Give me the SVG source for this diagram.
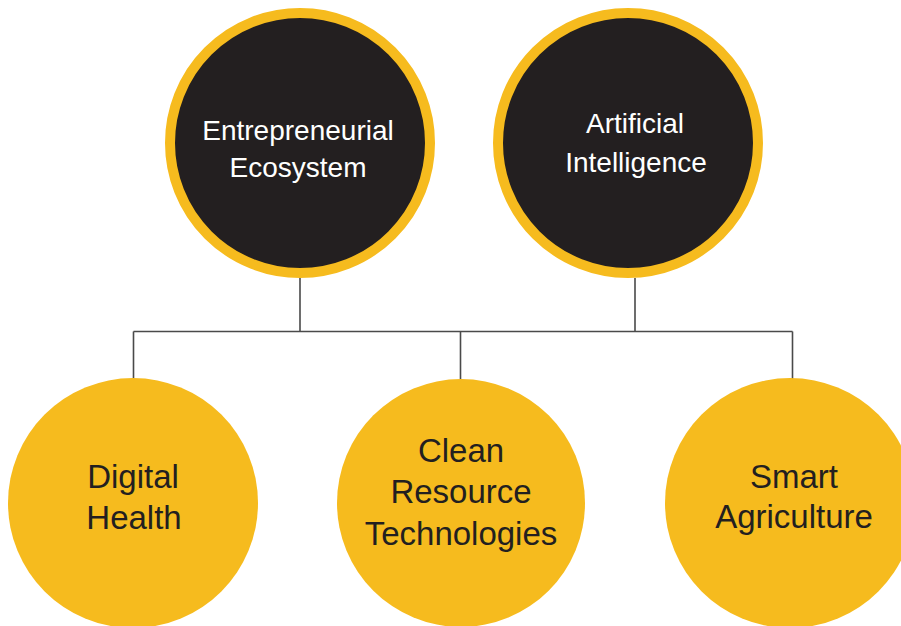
<svg xmlns="http://www.w3.org/2000/svg" width="901" height="626" viewBox="0 0 901 626">
<style>
.top{fill:#231f20;stroke:#f6bb1e;stroke-width:10}
.bot{fill:#f6bb1e}
.lt{fill:#ffffff;font-family:"Liberation Sans",Arial,sans-serif;font-size:28px;text-anchor:middle}
.dt{fill:#231f20;font-family:"Liberation Sans",Arial,sans-serif;font-size:33px;text-anchor:middle}
.conn{stroke:#4a4a4a;stroke-width:1.6;fill:none}
</style>
<rect width="901" height="626" fill="#ffffff"/>
<g id="connectors">
<path class="conn" d="M300 278V331.5M635 278V331.5M133.5 331.5H792.5M133.5 331.5V379M460.5 331.5V379M792.5 331.5V379"/>
</g>
<g id="node-entrepreneurial">
<circle class="top" cx="300" cy="143" r="130"/>
<text class="lt" x="298" y="140">Entrepreneurial</text>
<text class="lt" x="298" y="177">Ecosystem</text>
</g>
<g id="node-ai">
<circle class="top" cx="628" cy="143" r="130"/>
<text class="lt" x="635" y="133">Artificial</text>
<text class="lt" x="636" y="172">Intelligence</text>
</g>
<g id="node-digital-health">
<circle class="bot" cx="133" cy="503" r="125"/>
<text class="dt" x="133" y="488">Digital</text>
<text class="dt" x="134" y="529">Health</text>
</g>
<g id="node-clean-resource">
<circle class="bot" cx="461" cy="503" r="124"/>
<text class="dt" x="461" y="462">Clean</text>
<text class="dt" x="461" y="503">Resource</text>
<text class="dt" x="461" y="545">Technologies</text>
</g>
<g id="node-smart-agriculture">
<circle class="bot" cx="790" cy="503" r="125"/>
<text class="dt" x="794" y="488">Smart</text>
<text class="dt" x="794" y="528">Agriculture</text>
</g>
</svg>
